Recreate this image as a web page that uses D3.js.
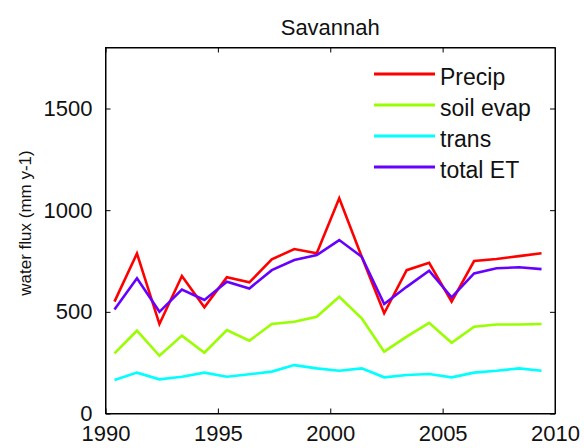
<!DOCTYPE html>
<html>
<head>
<meta charset="utf-8">
<script src="https://cdn.jsdelivr.net/npm/d3@7"></script>
<style>
  body { margin: 0; background: #fff; }
  svg { display: block; font-family: "Liberation Sans", Arial, sans-serif; }
  .tick text { fill: #111; }
</style>
</head>
<body>
<script>
// water flux per year, Savannah site (mm y-1)
var yearMid = [1990.4, 1991.4, 1992.4, 1993.4, 1994.4, 1995.4, 1996.4, 1997.4, 1998.4, 1999.4,
               2000.4, 2001.4, 2002.4, 2003.4, 2004.4, 2005.4, 2006.4, 2007.4, 2008.4, 2009.4];
var precip   = [550, 787, 440, 676, 522, 670, 645, 758, 809, 788, 1058, 771, 493, 705, 741, 550, 750, 760, 774, 788];
var soilEvap = [296, 407, 284, 383, 299, 410, 358, 440, 451, 476, 574, 468, 304, 378, 446, 348, 427, 438, 438, 440];
var trans    = [165, 201, 168, 181, 201, 181, 193, 206, 238, 222, 210, 222, 178, 189, 194, 178, 201, 210, 222, 210];
var totalET  = [512, 665, 500, 610, 558, 648, 615, 705, 755, 779, 853, 771, 538, 623, 702, 571, 689, 714, 719, 710];

var seriesNames = ["Precip", "soil evap", "trans", "total ET"];
var seriesColors = ["#ff0000", "#99ff00", "#00ffff", "#6600ff"];
var xTicks = [1990, 1995, 2000, 2005, 2010];
var yTicks = [0, 500, 1000, 1500];

(function() {
var W = 584, H = 448;
var mLeft = 105.5, mRight = 555, mTop = 47.5, mBottom = 413.5;

var svg = d3.select("body").append("svg").attr("width", W).attr("height", H);
svg.append("rect").attr("width", W).attr("height", H).attr("fill", "#fff");

var x = d3.scaleLinear().domain([1990, 2010]).range([mLeft, mRight]);
var y = d3.scaleLinear().domain([0, 1800]).range([mBottom, mTop]);

// axes, MATLAB style box with inward ticks on all sides
var tickLen = 5;
svg.append("g").attr("transform", "translate(0," + mBottom + ")")
  .call(d3.axisBottom(x).tickValues(xTicks).tickFormat(d3.format("d")).tickSizeInner(-tickLen).tickSizeOuter(0).tickPadding(12))
  .call(g => g.selectAll("text").attr("font-size", 22).attr("dy", "0.71em"));
svg.append("g").attr("transform", "translate(0," + mTop + ")")
  .call(d3.axisTop(x).tickValues(xTicks).tickFormat("").tickSizeInner(-tickLen).tickSizeOuter(0));
svg.append("g").attr("transform", "translate(" + mLeft + ",0)")
  .call(d3.axisLeft(y).tickValues(yTicks).tickFormat(d3.format("d")).tickSizeInner(-tickLen).tickSizeOuter(0).tickPadding(13))
  .call(g => g.selectAll("text").attr("font-size", 22));
svg.append("g").attr("transform", "translate(" + mRight + ",0)")
  .call(d3.axisRight(y).tickValues(yTicks).tickFormat("").tickSizeInner(-tickLen).tickSizeOuter(0));
svg.selectAll(".domain").attr("stroke", "#000");
svg.selectAll(".tick line").attr("stroke", "#000");

svg.append("rect")
  .attr("x", mLeft).attr("y", mTop)
  .attr("width", mRight - mLeft).attr("height", mBottom - mTop)
  .attr("fill", "none").attr("stroke", "#000").attr("stroke-width", 1);

// lines
var allSeries = [precip, soilEvap, trans, totalET];
var line = d3.line().x((d, i) => x(yearMid[i])).y(d => y(d));
svg.append("g").selectAll("path")
  .data(allSeries)
  .join("path")
  .attr("d", line)
  .attr("fill", "none")
  .attr("stroke", (d, i) => seriesColors[i])
  .attr("stroke-width", 2.6)
  .attr("stroke-linejoin", "miter");

// title and label
svg.append("text").attr("x", (mLeft + mRight) / 2).attr("y", 35)
  .attr("text-anchor", "middle").attr("font-size", 22).attr("fill", "#111")
  .text("Savannah");
svg.append("text").attr("transform", "translate(31,223) rotate(-90)")
  .attr("text-anchor", "middle").attr("font-size", 17).attr("fill", "#111")
  .text("water flux (mm y-1)");

// legend (no box)
var leg = svg.append("g").attr("transform", "translate(374,74)");
var rows = leg.selectAll("g").data(seriesNames).join("g")
  .attr("transform", (d, i) => "translate(0," + i * 31 + ")");
rows.append("line").attr("x1", 0).attr("x2", 61).attr("y1", 0).attr("y2", 0)
  .attr("stroke", (d, i) => seriesColors[i]).attr("stroke-width", 3);
rows.append("text").attr("x", 66).attr("y", 10.5)
  .attr("font-size", 23).attr("fill", "#111")
  .text(d => d);
})();
</script>
</body>
</html>
